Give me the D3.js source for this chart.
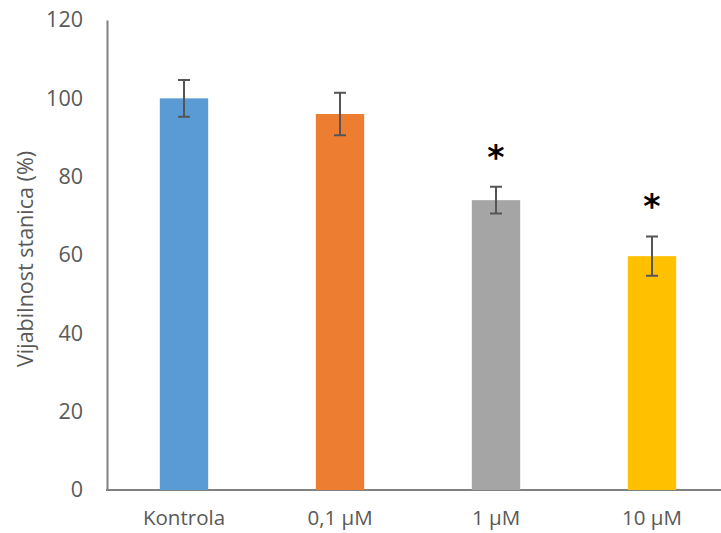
<!DOCTYPE html>
<html><head><meta charset="utf-8">
<script src="https://cdn.jsdelivr.net/npm/d3@7"></script>
<style>body{margin:0;background:#fff}svg{display:block}</style>
</head><body>
<svg id="c" width="721" height="533"></svg>
<script>
const categories = ["Kontrola", "0,1 µM", "1 µM", "10 µM"];
const values = [100, 96, 74, 59.7];
const errors = [4.7, 5.4, 3.4, 5.0];
const significant = [false, false, true, true];
const colors = ["#5B9BD5", "#ED7D31", "#A5A5A5", "#FFC000"];
const yTicks = [0, 20, 40, 60, 80, 100, 120];

const svg = d3.select("#c");
const font = "'Open Sans', sans-serif";
const x = d3.scaleBand().domain(categories).range([106, 730]).paddingInner(0.69).paddingOuter(0.345);
const y = d3.scaleLinear().domain([0, 120]).range([490, 20]);

// y axis
const ya = svg.append("g").attr("transform", "translate(107,0)")
  .call(d3.axisLeft(y).tickValues(yTicks).tickSize(0).tickPadding(24));
ya.select(".domain").attr("stroke", "#808080").attr("stroke-width", 2);
ya.selectAll("text").attr("font-family", font).attr("font-size", 21.5).attr("fill", "#595959");

// x axis
const xa = svg.append("g").attr("transform", "translate(0,490)")
  .call(d3.axisBottom(x).tickSize(0).tickPadding(20));
xa.select(".domain").attr("d", "M106,0H721").attr("stroke", "#808080").attr("stroke-width", 2);
xa.selectAll("text").attr("font-family", font).attr("font-size", 20.5).attr("fill", "#595959");

// bars
svg.append("g").selectAll("rect").data(categories).join("rect")
  .attr("x", d => x(d)).attr("width", x.bandwidth())
  .attr("y", (d, i) => y(values[i])).attr("height", (d, i) => y(0) - y(values[i]))
  .attr("fill", (d, i) => colors[i]);

// error bars
const eb = svg.append("g").attr("stroke", "#555555").attr("stroke-width", 2).attr("fill", "none");
categories.forEach((c, i) => {
  const cx = x(c) + x.bandwidth() / 2;
  const t = y(values[i] + errors[i]), b = y(values[i] - errors[i]);
  eb.append("path").attr("d", `M${cx},${t}V${b}M${cx-6},${t}H${cx+6}M${cx-6},${b}H${cx+6}`);
});

// significance asterisks
categories.forEach((c, i) => {
  if (!significant[i]) return;
  svg.append("text")
    .attr("x", x(c) + x.bandwidth() / 2)
    .attr("y", y(values[i] + errors[i]) - 42)
    .attr("dy", "0.72em")
    .attr("text-anchor", "middle")
    .attr("font-family", "DejaVu Sans, sans-serif").attr("font-weight", "bold")
    .attr("font-size", 33).attr("fill", "#000").text("*");
});

// y title
svg.append("text")
  .attr("transform", "translate(33,259) rotate(-90)")
  .attr("text-anchor", "middle")
  .attr("font-family", font).attr("font-size", 21.5).attr("fill", "#595959")
  .text("Vijabilnost stanica (%)");
</script>
</body></html>
